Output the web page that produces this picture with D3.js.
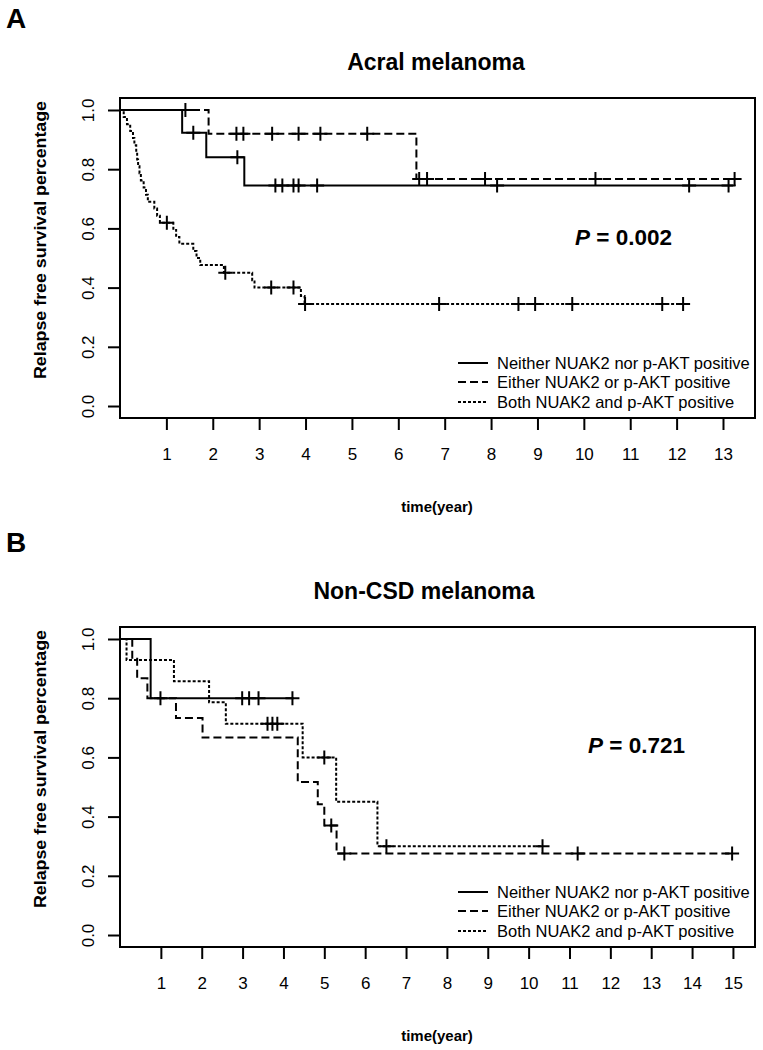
<!DOCTYPE html>
<html>
<head>
<meta charset="utf-8">
<script src="https://cdn.jsdelivr.net/npm/d3@7"></script>
<style>
  html, body { margin: 0; padding: 0; background: #fff; }
  svg { display: block; }
</style>
</head>
<body>
<svg id="chart" width="763" height="1050"></svg>
<script>
// ---------------- DATA ----------------
const legendLabels = [
  "Neither NUAK2 nor p-AKT positive",
  "Either NUAK2 or p-AKT positive",
  "Both NUAK2 and p-AKT positive"
];
const survTicks = [0, 0.2, 0.4, 0.6, 0.8, 1.0];
const survTickLabels = ["0.0", "0.2", "0.4", "0.6", "0.8", "1.0"];
const timeTicksA = [1, 2, 3, 4, 5, 6, 7, 8, 9, 10, 11, 12, 13];
const timeTicksB = [1, 2, 3, 4, 5, 6, 7, 8, 9, 10, 11, 12, 13, 14, 15];

// Panel A: Acral melanoma
const acralNeitherTimes  = [0, 1.34, 1.86, 2.68, 13.22];
const acralNeitherSurv   = [1, 0.923, 0.840, 0.745, 0.745];
const acralNeitherCensor = [1.58, 2.53, 3.35, 3.50, 3.74, 3.85, 4.25, 8.13, 12.27, 13.12];

const acralEitherTimes  = [0, 1.91, 6.39, 13.33];
const acralEitherSurv   = [1, 0.920, 0.767, 0.767];
const acralEitherCensor = [1.41, 2.51, 2.66, 3.28, 3.85, 4.32, 5.33, 6.45, 6.62, 7.87, 10.25, 13.25];

const acralBothTimes = [0, 0.08, 0.15, 0.22, 0.28, 0.31, 0.35, 0.37, 0.39, 0.42, 0.45, 0.51, 0.56,
  0.60, 0.74, 0.80, 0.86, 1.15, 1.21, 1.28, 1.58, 1.65, 1.73, 2.24, 2.85, 2.90, 3.90, 3.98, 12.14];
const acralBothSurv = [1, 0.976, 0.952, 0.929, 0.905, 0.881, 0.857, 0.833, 0.810, 0.786, 0.762, 0.738, 0.714,
  0.690, 0.667, 0.643, 0.619, 0.595, 0.571, 0.548, 0.524, 0.500, 0.476, 0.450, 0.425, 0.400, 0.372, 0.345, 0.345];
const acralBothCensor = [1.01, 2.27, 3.26, 3.74, 3.99, 6.88, 8.59, 8.95, 9.75, 11.69, 12.14];

// Panel B: Non-CSD melanoma
const noncsdNeitherTimes  = [0, 0.75, 4.25];
const noncsdNeitherSurv   = [1, 0.80, 0.80];
const noncsdNeitherCensor = [0.99, 2.99, 3.16, 3.39, 4.22];

const noncsdEitherTimes  = [0, 0.30, 0.42, 0.67, 1.37, 2.02, 4.35, 4.84, 5.00, 5.30, 14.98];
const noncsdEitherSurv   = [1, 0.933, 0.867, 0.800, 0.733, 0.667, 0.517, 0.442, 0.370, 0.275, 0.275];
const noncsdEitherCensor = [5.17, 5.49, 11.2, 14.98];

const noncsdBothTimes  = [0, 0.16, 1.32, 2.18, 2.59, 4.47, 5.29, 6.30, 10.34];
const noncsdBothSurv   = [1, 0.929, 0.857, 0.786, 0.714, 0.600, 0.450, 0.300, 0.300];
const noncsdBothCensor = [3.61, 3.73, 3.85, 5.00, 6.52, 10.34];

// ---------------- DRAWING ----------------
const FONT = "'Liberation Sans', Arial, Helvetica, sans-serif";
const dashStyles = [null, "8,4", "3,2"];
const svg = d3.select("#chart");

function survAt(times, surv, t) {
  let s = surv[0];
  for (let i = 0; i < times.length; i++) { if (times[i] <= t + 1e-9) s = surv[i]; }
  return s;
}

function drawPanel(cfg) {
  const g = svg.append("g").attr("transform", `translate(0,${cfg.offsetY})`);
  const left = 120, right = 755, top = 98, bottom = 418;
  const x = d3.scaleLinear().domain([0, cfg.xMax]).range([left, right]);
  const y = d3.scaleLinear().domain([-0.0405, 1.0405]).range([bottom, top]);

  // panel letter
  g.append("text").attr("x", 6).attr("y", 28 + cfg.letterDy)
    .attr("font-family", FONT).attr("font-weight", "bold").attr("font-size", 28)
    .text(cfg.letter);

  // title
  g.append("text").attr("x", cfg.titleX).attr("y", 70)
    .attr("text-anchor", "middle").attr("font-family", FONT)
    .attr("font-weight", "bold").attr("font-size", 23).text(cfg.title);

  // y axis
  const yAxis = d3.axisLeft(y).tickValues(survTicks).tickSize(12).tickSizeOuter(0)
    .tickFormat((d, i) => survTickLabels[i]);
  const ya = g.append("g").attr("transform", `translate(${left},0)`).call(yAxis);
  ya.select(".domain").remove();
  ya.selectAll(".tick line").attr("stroke", "#000").attr("stroke-width", 2);
  ya.selectAll(".tick text")
    .attr("font-family", FONT).attr("font-size", 17).attr("fill", "#000")
    .attr("x", null).attr("dy", null).attr("text-anchor", "middle")
    .attr("transform", "translate(-26,0) rotate(-90)");

  // x axis
  const xAxis = d3.axisBottom(x).tickValues(cfg.xTicks).tickSize(12).tickSizeOuter(0)
    .tickFormat(d3.format("d"));
  const xa = g.append("g").attr("transform", `translate(0,${bottom})`).call(xAxis);
  xa.select(".domain").remove();
  xa.selectAll(".tick line").attr("stroke", "#000").attr("stroke-width", 2);
  xa.selectAll(".tick text")
    .attr("font-family", FONT).attr("font-size", 17).attr("fill", "#000")
    .attr("y", 42).attr("dy", null);

  // frame
  g.append("rect").attr("x", left).attr("y", top)
    .attr("width", right - left).attr("height", bottom - top)
    .attr("fill", "none").attr("stroke", "#000").attr("stroke-width", 2);

  // axis labels
  g.append("text").attr("x", 437).attr("y", 512)
    .attr("text-anchor", "middle").attr("font-family", FONT)
    .attr("font-weight", "bold").attr("font-size", 15).text("time(year)");
  g.append("text").attr("transform", `translate(46,240) rotate(-90)`)
    .attr("text-anchor", "middle").attr("font-family", FONT)
    .attr("font-weight", "bold").attr("font-size", 16.5)
    .attr("textLength", 278).attr("lengthAdjust", "spacingAndGlyphs")
    .text("Relapse free survival percentage");

  // curves
  const line = d3.line().x(d => x(d[0])).y(d => y(d[1])).curve(d3.curveStepAfter);
  cfg.series.forEach((s, i) => {
    const pts = s.times.map((t, k) => [t, s.surv[k]]);
    g.append("path").attr("d", line(pts)).attr("fill", "none")
      .attr("stroke", "#000").attr("stroke-width", 2)
      .attr("stroke-dasharray", dashStyles[i]);
    s.censor.forEach(t => {
      const cx = x(t), cy = y(survAt(s.times, s.surv, t));
      g.append("path")
        .attr("d", `M${cx - 7},${cy}H${cx + 7}M${cx},${cy - 7}V${cy + 7}`)
        .attr("stroke", "#000").attr("stroke-width", 2).attr("fill", "none");
    });
  });

  // P value
  const p = g.append("text").attr("x", cfg.pX).attr("y", cfg.pY)
    .attr("font-family", FONT).attr("font-weight", "bold").attr("font-size", 22.5);
  p.append("tspan").attr("font-style", "italic").text("P");
  p.append("tspan").text(" = " + cfg.pValue);

  // legend
  const rowY = [363, 382, 402];
  legendLabels.forEach((lab, i) => {
    g.append("line").attr("x1", 458).attr("x2", 488).attr("y1", rowY[i]).attr("y2", rowY[i])
      .attr("stroke", "#000").attr("stroke-width", 2).attr("stroke-dasharray", dashStyles[i]);
    g.append("text").attr("x", 497).attr("y", rowY[i] + 6)
      .attr("font-family", FONT).attr("font-size", 16.5).text(lab);
  });
}

drawPanel({
  offsetY: 0, letter: "A", letterDy: 0, title: "Acral melanoma", titleX: 436,
  xMax: 13.69, xTicks: timeTicksA, pValue: "0.002", pX: 575, pY: 245,
  series: [
    { times: acralNeitherTimes, surv: acralNeitherSurv, censor: acralNeitherCensor },
    { times: acralEitherTimes, surv: acralEitherSurv, censor: acralEitherCensor },
    { times: acralBothTimes, surv: acralBothSurv, censor: acralBothCensor }
  ]
});
drawPanel({
  offsetY: 529, letter: "B", letterDy: -5, title: "Non-CSD melanoma", titleX: 424,
  xMax: 15.54, xTicks: timeTicksB, pValue: "0.721", pX: 588, pY: 224,
  series: [
    { times: noncsdNeitherTimes, surv: noncsdNeitherSurv, censor: noncsdNeitherCensor },
    { times: noncsdEitherTimes, surv: noncsdEitherSurv, censor: noncsdEitherCensor },
    { times: noncsdBothTimes, surv: noncsdBothSurv, censor: noncsdBothCensor }
  ]
});
</script>
</body>
</html>
